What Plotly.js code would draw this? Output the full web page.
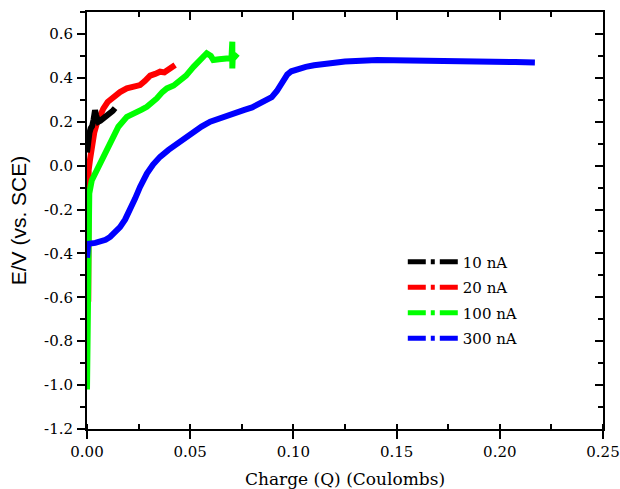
<!DOCTYPE html>
<html>
<head>
<meta charset="utf-8">
<script src="https://cdn.plot.ly/plotly-3.0.1.min.js"></script>
<style>html,body{margin:0;padding:0;background:#fff;}#chart{width:620px;height:489px;}</style>
</head>
<body>
<div id="chart"></div>
<script>
// Series names and colours
var seriesNames = ['10 nA', '20 nA', '100 nA', '300 nA'];
var seriesColors = ['#000000', '#ff0000', '#00ff00', '#0000ff'];

// 10 nA
var q10 = [0, 0.0003, 0.0006, 0.0012, 0.0018, 0.0025, 0.0032, 0.0039, 0.0044, 0.0050, 0.0055, 0.0065, 0.0080, 0.0095, 0.0110, 0.0125, 0.0136];
var e10 = [0.06, 0.10, 0.12, 0.15, 0.17, 0.18, 0.21, 0.253, 0.23, 0.21, 0.20, 0.205, 0.215, 0.228, 0.24, 0.25, 0.262];

// 20 nA
var q20 = [0.0006, 0.0006, 0.0004, 0.0004, 0.0008, 0.0015, 0.0023, 0.0035, 0.0047, 0.0060, 0.0079, 0.0100, 0.0128, 0.0160, 0.0193, 0.0225, 0.0257, 0.0280, 0.0306, 0.0330, 0.0354, 0.0375, 0.0395, 0.0410, 0.0427];
var e20 = [-0.62, -0.55, -0.35, -0.10, -0.02, 0.03, 0.10, 0.15, 0.19, 0.225, 0.26, 0.29, 0.314, 0.335, 0.352, 0.358, 0.367, 0.385, 0.41, 0.418, 0.428, 0.425, 0.435, 0.445, 0.458];

// 100 nA
var q100 = [0, 0.0002, 0.0004, 0.0006, 0.0011, 0.0023, 0.0047, 0.0079, 0.0112, 0.0152, 0.0193, 0.0215, 0.0241, 0.0265, 0.0290, 0.0315, 0.0338, 0.0365, 0.0387, 0.0420, 0.0451, 0.0480, 0.0516, 0.0549, 0.0580, 0.0600, 0.0612, 0.0640, 0.0670, 0.0700, 0.0704, 0.0704, 0.0706, 0.0718, 0.0730];
var e100 = [-1.02, -0.70, -0.35, -0.20, -0.127, -0.067, -0.021, 0.025, 0.10, 0.177, 0.222, 0.232, 0.238, 0.255, 0.268, 0.285, 0.306, 0.335, 0.352, 0.365, 0.39, 0.41, 0.45, 0.481, 0.512, 0.50, 0.481, 0.485, 0.49, 0.49, 0.565, 0.443, 0.495, 0.50, 0.49];

// 300 nA
var q300 = [0, 0.0003, 0.0006, 0.0040, 0.0063, 0.0090, 0.0112, 0.0135, 0.0160, 0.0185, 0.0209, 0.0233, 0.0257, 0.0275, 0.0290, 0.0320, 0.0354, 0.0395, 0.0435, 0.0475, 0.0516, 0.0555, 0.0597, 0.0640, 0.0678, 0.0720, 0.0759, 0.0800, 0.0840, 0.0870, 0.0895, 0.0920, 0.0945, 0.0970, 0.0990, 0.1020, 0.1060, 0.1100, 0.1164, 0.1250, 0.1406, 0.1500, 0.1600, 0.1700, 0.1800, 0.1900, 0.2000, 0.2075, 0.2170];
var e300 = [-0.42, -0.37, -0.356, -0.352, -0.348, -0.338, -0.325, -0.305, -0.28, -0.245, -0.204, -0.150, -0.097, -0.062, -0.036, 0.005, 0.04, 0.072, 0.10, 0.128, 0.154, 0.178, 0.20, 0.215, 0.23, 0.242, 0.253, 0.265, 0.284, 0.296, 0.312, 0.340, 0.380, 0.415, 0.430, 0.440, 0.450, 0.457, 0.466, 0.474, 0.481, 0.48, 0.482, 0.482, 0.48, 0.479, 0.476, 0.472, 0.47];

// Tick labels
var xTickVals = [0, 0.05, 0.10, 0.15, 0.20, 0.25];
var xTickText = ['0.00', '0.05', '0.10', '0.15', '0.20', '0.25'];
var yTickVals = [0.6, 0.4, 0.2, 0.0, -0.2, -0.4, -0.6, -0.8, -1.0, -1.2];
var yTickText = ['0.6', '0.4', '0.2', '0.0', '-0.2', '-0.4', '-0.6', '-0.8', '-1.0', '-1.2'];

var xs = [q10, q20, q100, q300];
var ys = [e10, e20, e100, e300];
var drawOrder = [1, 2, 3, 0];

var traces = [];
drawOrder.forEach(function (i) {
  traces.push({
    x: xs[i], y: ys[i], type: 'scatter', mode: 'lines',
    line: {color: seriesColors[i], width: 6},
    showlegend: false, hoverinfo: 'skip'
  });
});
seriesNames.forEach(function (name, i) {
  traces.push({
    x: [null], y: [null], type: 'scatter', mode: 'lines', name: name,
    xaxis: 'x2', yaxis: 'y2', legendgroup: 'g' + i,
    line: {color: seriesColors[i], width: 5, dash: '18px,5px,4px,5px,18px'},
    legendrank: i + 1
  });
});

var serif = 'DejaVu Serif';
var sans = 'Liberation Sans';
var axisCommon = {
  showgrid: false, zeroline: false, showline: true, linecolor: '#000', linewidth: 2,
  tickcolor: '#000', tickwidth: 2
};

var layout = {
  width: 620, height: 489,
  margin: {l: 87, r: 17, t: 12, b: 60},
  paper_bgcolor: '#fff', plot_bgcolor: '#fff',
  font: {family: serif, size: 15, color: '#000'},
  showlegend: true,
  legend: {
    x: 0.612, y: 0.44, xanchor: 'left', yanchor: 'top',
    bgcolor: 'rgba(0,0,0,0)', borderwidth: 0,
    font: {family: serif, size: 15, color: '#000'},
    itemwidth: 50, tracegroupgap: 3
  },
  xaxis: Object.assign({}, axisCommon, {
    range: [0, 0.25], tickvals: xTickVals, ticktext: xTickText,
    ticks: 'outside', ticklen: 8,
    minor: {dtick: 0.025, tick0: 0, ticks: 'inside', ticklen: 5, tickwidth: 2, tickcolor: '#000'},
    tickfont: {family: serif, size: 15, color: '#000'},
    title: {text: 'Charge (Q) (Coulombs)', font: {family: serif, size: 17, color: '#000'}, standoff: 13}
  }),
  yaxis: Object.assign({}, axisCommon, {
    range: [-1.2, 0.7], tickvals: yTickVals, ticktext: yTickText,
    ticks: 'outside', ticklen: 8, ticklabelstandoff: 1,
    minor: {dtick: 0.1, tick0: 0, ticks: 'outside', ticklen: 5, tickwidth: 2, tickcolor: '#000'},
    tickfont: {family: serif, size: 15, color: '#000'},
    title: {text: 'E/V (vs. SCE)', font: {family: sans, size: 21, color: '#000'}, standoff: 12}
  }),
  xaxis2: Object.assign({}, axisCommon, {
    overlaying: 'x', side: 'top', range: [0, 0.25], tickvals: xTickVals,
    showticklabels: false, ticks: 'inside', ticklen: 8,
    minor: {dtick: 0.025, tick0: 0, ticks: 'inside', ticklen: 5, tickwidth: 2, tickcolor: '#000'}
  }),
  yaxis2: Object.assign({}, axisCommon, {
    overlaying: 'y', side: 'right', range: [-1.2, 0.7], tickvals: yTickVals,
    showticklabels: false, ticks: 'inside', ticklen: 8,
    minor: {dtick: 0.1, tick0: 0, ticks: 'inside', ticklen: 5, tickwidth: 2, tickcolor: '#000'}
  })
};

Plotly.newPlot('chart', traces, layout, {displayModeBar: false, staticPlot: true});
</script>
</body>
</html>
